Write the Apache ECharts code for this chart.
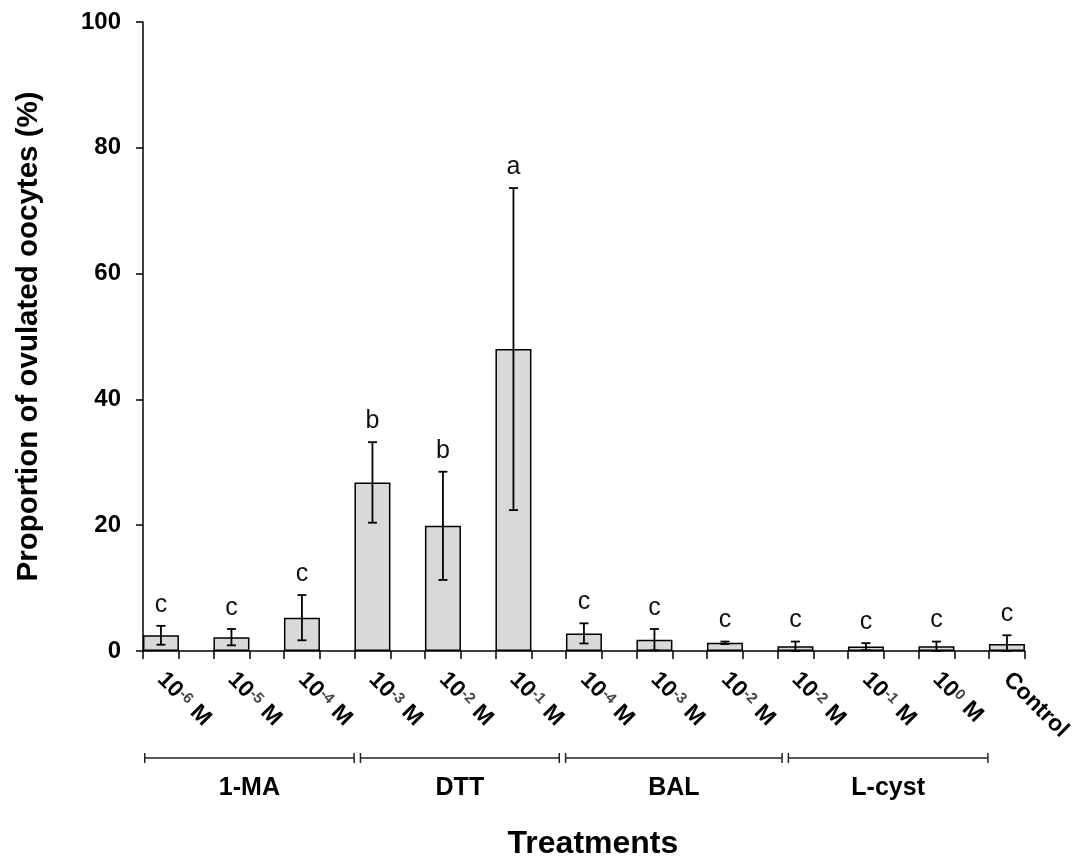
<!DOCTYPE html>
<html><head><meta charset="utf-8">
<script src="https://cdn.jsdelivr.net/npm/echarts@6/dist/echarts.min.js"></script>
<style>html,body{margin:0;padding:0;background:#fff}#c{width:1075px;height:865px}</style>
</head><body><div id="c"></div>
<script>
// ---- data ----
const labelBase = ['10', '10', '10', '10', '10', '10', '10', '10', '10', '10', '10', '10', 'Control'];
const labelExp  = ['-6', '-5', '-4', '-3', '-2', '-1', '-4', '-3', '-2', '-2', '-1', '0', ''];
const labelUnit = [' M', ' M', ' M', ' M', ' M', ' M', ' M', ' M', ' M', ' M', ' M', ' M', ''];
const means   = [2.5, 2.2, 5.3, 26.8, 19.9, 48.0, 2.8, 1.8, 1.3, 0.75, 0.7, 0.75, 1.1];
const errors  = [1.5, 1.3, 3.6, 6.4, 8.6, 25.6, 1.6, 1.7, 0.2, 0.75, 0.55, 0.75, 1.4];
const letters = ['c', 'c', 'c', 'b', 'b', 'a', 'c', 'c', 'c', 'c', 'c', 'c', 'c'];
const groupNames = ['1-MA', 'DTT', 'BAL', 'L-cyst'];
const groupStart = [-0.23, 2.83, 5.74, 8.90];
const groupEnd   = [2.74, 5.65, 8.81, 11.73];
const yTicks = [0, 20, 40, 60, 80, 100];

// ---- chart ----
const FONT = "'Liberation Sans', Arial, sans-serif";
const HALF = 0.2546;               // half bar width in axis units
const n = means.length;
const idx = means.map((_, i) => i);
const tickVals = [];
idx.forEach(i => { tickVals.push(i - HALF, i + HALF); });

const chart = echarts.init(document.getElementById('c'), null, {renderer: 'canvas'});
chart.setOption({
  animation: false,
  backgroundColor: '#fff',
  grid: {left: 143, right: 47, top: 22, bottom: 214, containLabel: false},
  xAxis: {
    type: 'value',
    min: -HALF, max: n - 1 + HALF,
    splitLine: {show: false},
    axisLine: {show: true, onZero: false, lineStyle: {color: '#000', width: 1.5}},
    axisTick: {show: true, customValues: tickVals, length: 8, lineStyle: {color: '#000', width: 1.5}},
    axisLabel: {
      show: true, customValues: idx, rotate: -45, margin: 25,
      fontFamily: FONT, fontWeight: 'bold', fontSize: 23, color: '#000',
      formatter: v => {
        const i = Math.round(v);
        return labelExp[i] ? labelBase[i] + '{s|' + labelExp[i] + '}' + labelUnit[i] : labelBase[i];
      },
      rich: {s: {fontFamily: FONT, fontSize: 15, fontWeight: 'bold', color: '#444', padding: [0, 1, 6, 0]}}
    },
    name: 'Treatments', nameLocation: 'middle', nameGap: 177,
    nameTextStyle: {fontFamily: FONT, fontWeight: 'bold', fontSize: 32, color: '#000', padding: [0, 0, 0, 18]}
  },
  yAxis: {
    type: 'value', min: 0, max: 100, interval: 20,
    splitLine: {show: false},
    axisLine: {show: true, onZero: false, lineStyle: {color: '#000', width: 1.5}},
    axisTick: {show: true, length: 7, lineStyle: {color: '#000', width: 1.5}},
    axisLabel: {margin: 22, fontFamily: FONT, fontWeight: 'bold', fontSize: 24, color: '#000',
      formatter: v => yTicks.includes(v) ? String(v) : ''},
    name: 'Proportion of ovulated oocytes (%)', nameLocation: 'middle', nameGap: 99, nameRotate: 90,
    nameTextStyle: {fontFamily: FONT, fontWeight: 'bold', fontSize: 29.5, color: '#000'}
  },
  series: [
    {
      type: 'bar', barWidth: 36,
      data: means.map((m, i) => [i, m]),
      itemStyle: {color: '#d9d9d9', borderColor: '#000', borderWidth: 1.5},
      z: 2
    },
    {
      type: 'custom', z: 3,
      data: means.map((m, i) => [i, m, errors[i]]),
      encode: {x: 0, y: 1},
      renderItem: (params, api) => {
        const i = api.value(0), m = api.value(1), e = api.value(2);
        const top = api.coord([i, m + e]);
        const bot = api.coord([i, Math.max(0, m - e)]);
        const cap = 4.5;
        const st = {stroke: '#000', lineWidth: 1.8};
        return {type: 'group', children: [
          {type: 'line', shape: {x1: top[0], y1: top[1], x2: bot[0], y2: bot[1]}, style: st},
          {type: 'line', shape: {x1: top[0] - cap, y1: top[1], x2: top[0] + cap, y2: top[1]}, style: st},
          {type: 'line', shape: {x1: bot[0] - cap, y1: bot[1], x2: bot[0] + cap, y2: bot[1]}, style: st},
          {type: 'text', x: top[0], y: top[1] - 21,
            style: {text: letters[params.dataIndex], align: 'center', verticalAlign: 'middle',
              font: '25px ' + FONT, fill: '#111'}}
        ]};
      }
    },
    {
      type: 'custom', z: 3, clip: false,
      data: groupNames.map((g, k) => [groupStart[k], groupEnd[k], 0]),
      encode: {x: [0, 1], y: 2},
      renderItem: (params, api) => {
        const a = api.coord([api.value(0), 0]);
        const b = api.coord([api.value(1), 0]);
        const y = a[1] + 107;
        const st = {stroke: '#222', lineWidth: 1.5};
        return {type: 'group', children: [
          {type: 'line', shape: {x1: a[0], y1: y, x2: b[0], y2: y}, style: st},
          {type: 'line', shape: {x1: a[0], y1: y - 5, x2: a[0], y2: y + 5}, style: st},
          {type: 'line', shape: {x1: b[0], y1: y - 5, x2: b[0], y2: y + 5}, style: st},
          {type: 'text', x: (a[0] + b[0]) / 2, y: y + 30,
            style: {text: groupNames[params.dataIndex], align: 'center', verticalAlign: 'middle',
              font: 'bold 25px ' + FONT, fill: '#000'}}
        ]};
      }
    }
  ]
});
</script></body></html>
